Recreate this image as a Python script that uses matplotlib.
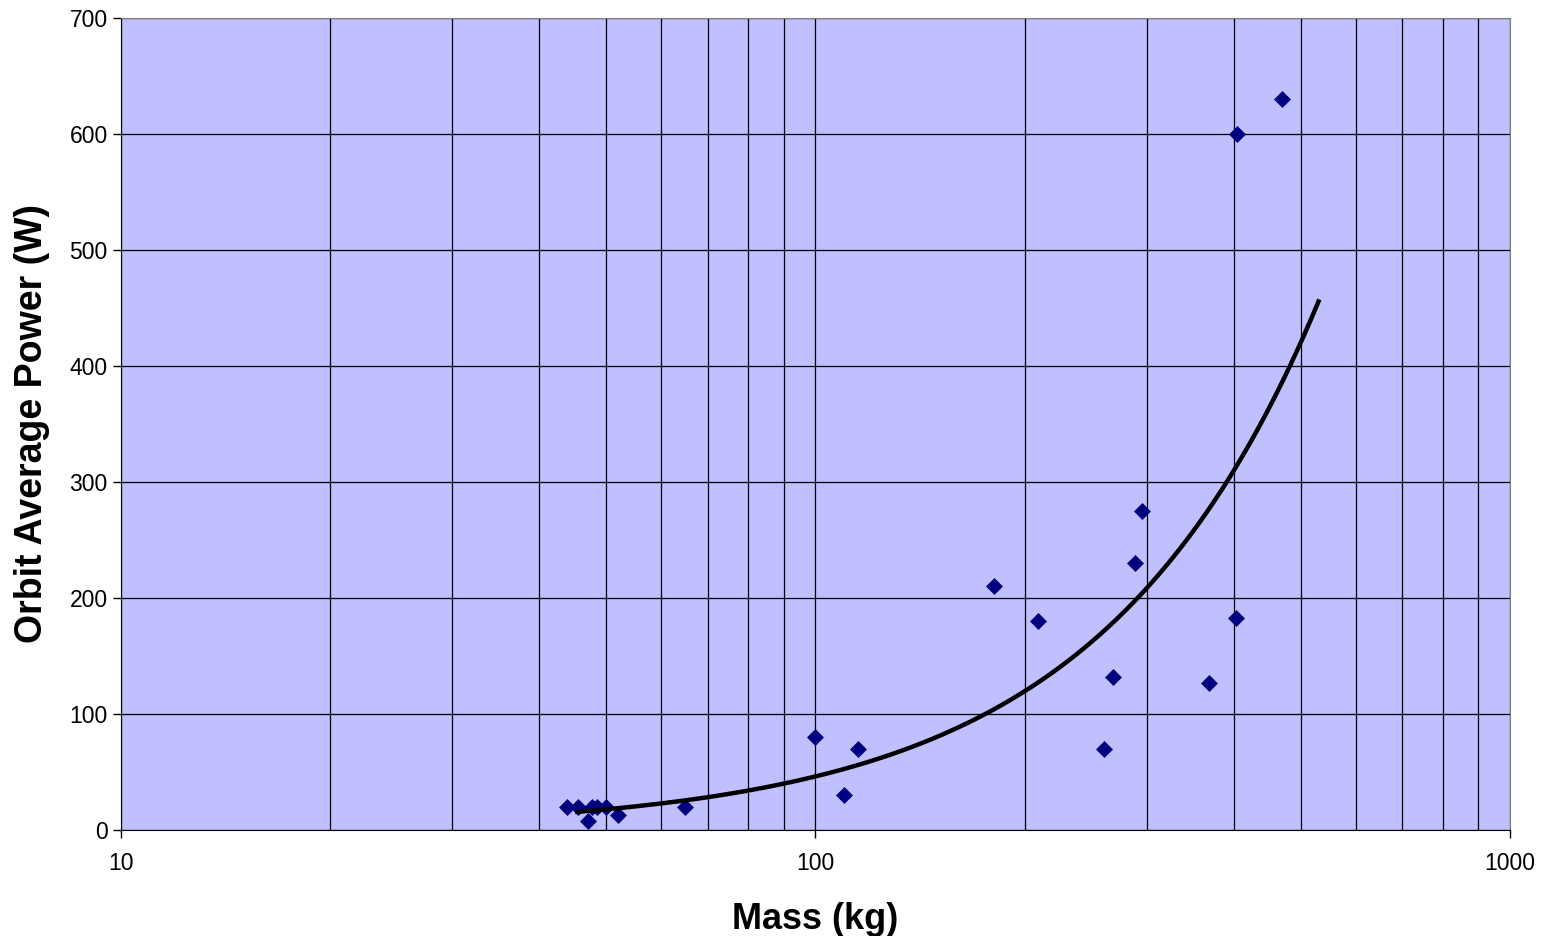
import matplotlib
matplotlib.use("Agg")
import matplotlib.pyplot as plt
import numpy as np
from matplotlib.ticker import LogLocator, FixedLocator, NullFormatter

# Satellite mass (kg) vs orbit average power (W)
mass = [43.9, 45.5, 47.0, 47.6, 48.4, 49.9, 52.0, 64.9, 100, 110, 115,
        181, 209, 260, 268, 288, 295, 369, 403, 404, 470]
power = [20, 20, 8, 20, 20, 20, 13, 20, 80, 30, 70,
         210, 180, 70, 132, 230, 275, 127, 183, 600, 630]
trend_end = 530  # trendline forecast end (kg)

plt.rcParams["font.family"] = ["Liberation Sans", "DejaVu Sans"]

fig = plt.figure(figsize=(15.44, 9.36), dpi=100)
ax = fig.add_axes([121 / 1544, 1 - 830 / 936, (1510 - 121) / 1544, (830 - 18) / 936])
ax.set_facecolor("#C0C0FF")

ax.set_xscale("log")
ax.set_xlim(10, 1000)
ax.set_ylim(0, 700)

# gridlines: every minor/major x tick, every 100 on y
ax.xaxis.set_major_locator(FixedLocator([10, 100, 1000]))
ax.xaxis.set_minor_locator(LogLocator(base=10, subs=np.arange(2, 10)))
ax.xaxis.set_minor_formatter(NullFormatter())
ax.set_xticklabels(["10", "100", "1000"])
ax.set_yticks(np.arange(0, 701, 100))
ax.grid(True, which="both", axis="x", color="black", linewidth=0.9)
ax.grid(True, which="major", axis="y", color="black", linewidth=0.9)
ax.set_axisbelow(True)

ax.scatter(mass, power, marker="D", s=75, color="#000080", zorder=3, linewidths=0)

# power-law trendline fitted to the data
b, a = np.polyfit(np.log(mass), np.log(power), 1)
xt = np.linspace(min(mass) + 1.5, trend_end, 300)
ax.plot(xt, np.exp(a) * xt ** b, color="black", linewidth=3.2, zorder=4)

ax.tick_params(axis="both", which="major", labelsize=16.5, length=6, width=1, direction="out")
ax.tick_params(axis="x", which="minor", length=0)
ax.tick_params(axis="x", which="major", pad=10)
for s in ["top", "right"]:
    ax.spines[s].set_color("#808080")
for s in ["left", "bottom"]:
    ax.spines[s].set_color("black")

ax.set_xlabel("Mass (kg)", fontsize=26, fontweight="bold", labelpad=19)
ax.set_ylabel("Orbit Average Power (W)", fontsize=27, fontweight="bold", labelpad=14)

fig.savefig("out.png", dpi=100, facecolor="white")
